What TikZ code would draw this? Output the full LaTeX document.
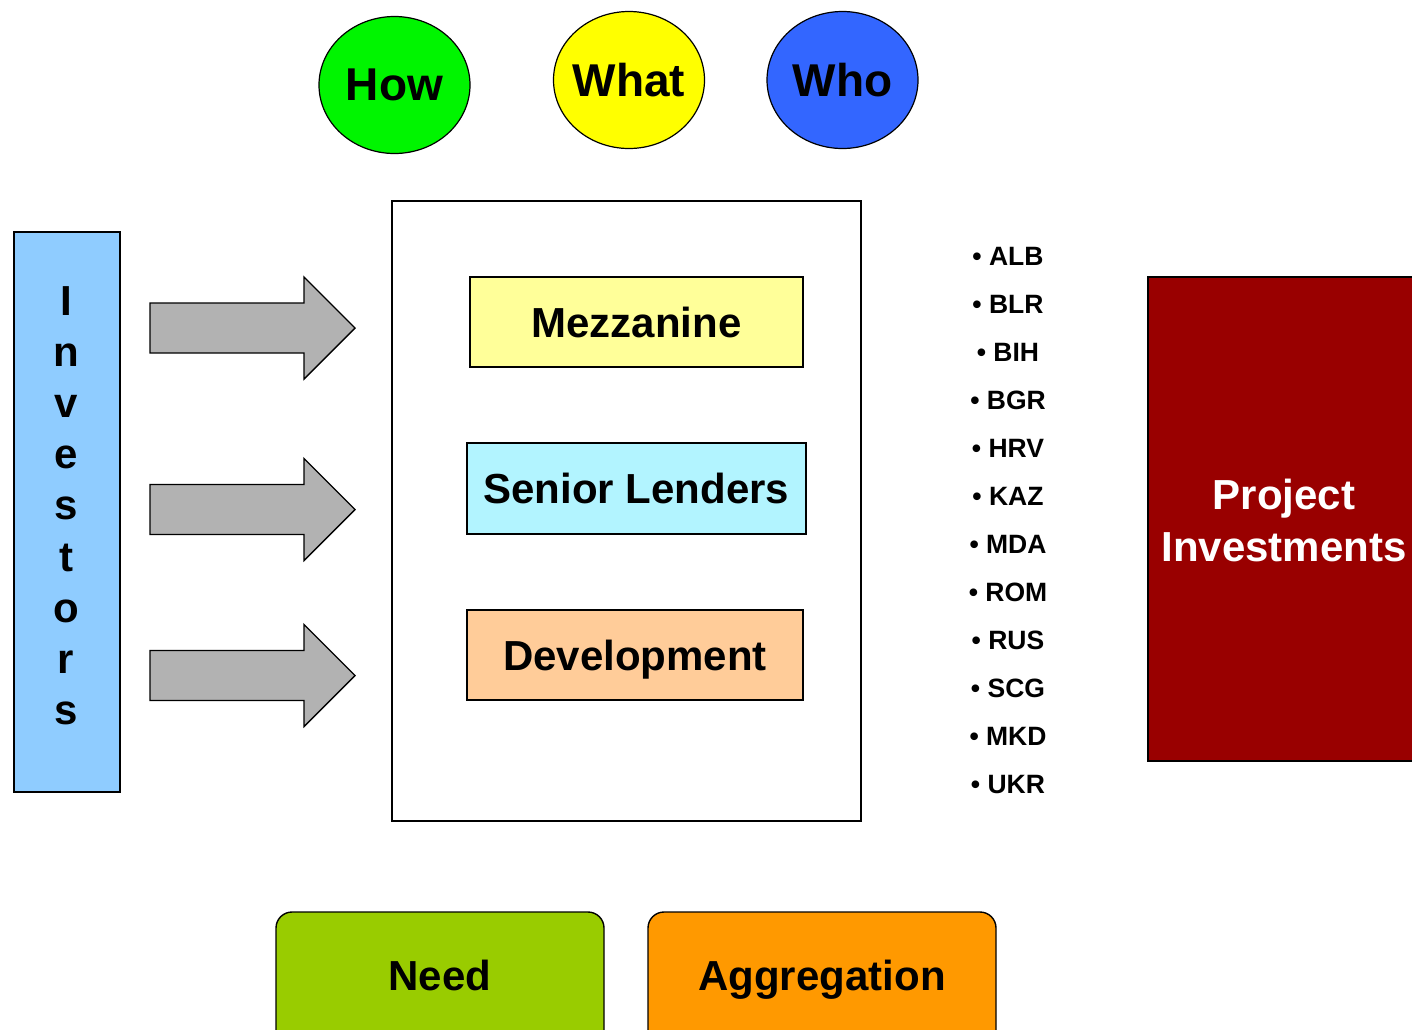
\documentclass[tikz,border=0pt]{standalone}
\usepackage{fontspec}
\setmainfont{Liberation Sans}
\usetikzlibrary{shapes.geometric}

\definecolor{howgreen}{HTML}{00F500}
\definecolor{whatyellow}{HTML}{FFFF00}
\definecolor{whoblue}{HTML}{3366FF}
\definecolor{invblue}{HTML}{8FCCFF}
\definecolor{mezzfill}{HTML}{FFFF99}
\definecolor{seniorfill}{HTML}{B2F4FF}
\definecolor{devfill}{HTML}{FFCC99}
\definecolor{projred}{HTML}{990000}
\definecolor{needgreen}{HTML}{99CC00}
\definecolor{aggorange}{HTML}{FF9900}
\definecolor{arrowgray}{HTML}{B2B2B2}

\tikzset{
  bubble/.style={ellipse, draw=black, line width=1.2pt, inner sep=0pt,
    minimum width=151pt, minimum height=137pt},
  bubbletext/.style={inner sep=0pt, font=\fontsize{46}{50}\selectfont\bfseries},
  tierbox/.style={rectangle, draw=black, line width=1.4pt, inner sep=0pt,
    text depth=0pt, font=\fontsize{42}{48}\selectfont\bfseries},
  letter/.style={anchor=base, inner sep=0pt, font=\fontsize{42}{48}\selectfont\bfseries},
  country/.style={anchor=base, inner sep=0pt, font=\fontsize{26.5}{30}\selectfont\bfseries},
  blockarrow/.style={draw=black, line width=1.4pt, fill=arrowgray, line join=miter},
  roundbox/.style={rectangle, rounded corners=16pt, draw=black, line width=1.4pt,
    inner sep=0pt},
  bigtext/.style={inner sep=0pt, text depth=0pt, font=\fontsize{42}{48}\selectfont\bfseries},
}

\begin{document}
\begin{tikzpicture}[x=1pt, y=-1pt]
\useasboundingbox (0,0) rectangle (1412,1029);
\clip (0,0) rectangle (1412,1029);

% question bubbles
\node[bubble, fill=howgreen] (how) at (394.5,85) {};
\node[bubbletext] (howtext) at (how.center) {How};
\node[bubble, fill=whatyellow] (what) at (629,80) {};
\node[bubbletext] (whattext) at (what.center) {What};
\node[bubble, fill=whoblue] (who) at (842.5,80) {};
\node[bubbletext] (whotext) at (who.center) {Who};

% investors column
\node[rectangle, draw=black, line width=1.4pt, fill=invblue, inner sep=0pt,
  minimum width=106pt, minimum height=560pt] (investors) at (67,512) {};
\foreach \ch [count=\k from 0] in {I,n,v,e,s,t,o,r,s} {
  \node[letter] (inv\k) at (66,{315+51.2*\k}) {\ch};
}

% block arrows
\foreach \cy [count=\k] in {328,509.5,675.5} {
  \draw[blockarrow] (150,{\cy-25}) -- (304,{\cy-25}) -- (304,{\cy-51})
    -- (355,\cy) -- (304,{\cy+51}) -- (304,{\cy+25}) -- (150,{\cy+25}) -- cycle;
}

% financing tiers
\node[rectangle, draw=black, line width=1.4pt, fill=white, inner sep=0pt,
  minimum width=469pt, minimum height=620pt] (frame) at (626.5,511) {};
\node[tierbox, fill=mezzfill, minimum width=333pt, minimum height=90pt]
  (mezz) at (636.5,322) {Mezzanine};
\node[tierbox, fill=seniorfill, minimum width=339pt, minimum height=91pt]
  (senior) at (636.5,488.5) {Senior Lenders};
\node[tierbox, fill=devfill, minimum width=336pt, minimum height=90pt]
  (dev) at (635,655) {Development};

% country list
\foreach \c [count=\k from 0] in {ALB,BLR,BIH,BGR,HRV,KAZ,MDA,ROM,RUS,SCG,MKD,UKR} {
  \node[country] (c\k) at (1008,{265+48*\k}) {• \c};
}

% project investments
\node[rectangle, draw=black, line width=1.6pt, fill=projred, inner sep=0pt,
  minimum width=280pt, minimum height=484pt] (project) at (1288,519) {};
\node[text=white, align=center, inner sep=0pt,
  font=\fontsize{42}{52}\selectfont\bfseries]
  (projtext) at (1284,520) {Project\\Investments};

% bottom boxes
\node[roundbox, fill=needgreen, minimum width=328pt, minimum height=150pt]
  (need) at (440,987) {};
\node[bigtext] (needtext) at (440,975) {Need};
\node[roundbox, fill=aggorange, minimum width=348pt, minimum height=150pt]
  (agg) at (822,987) {};
\node[bigtext] (aggtext) at (822,975) {Aggregation};

\end{tikzpicture}
\end{document}
